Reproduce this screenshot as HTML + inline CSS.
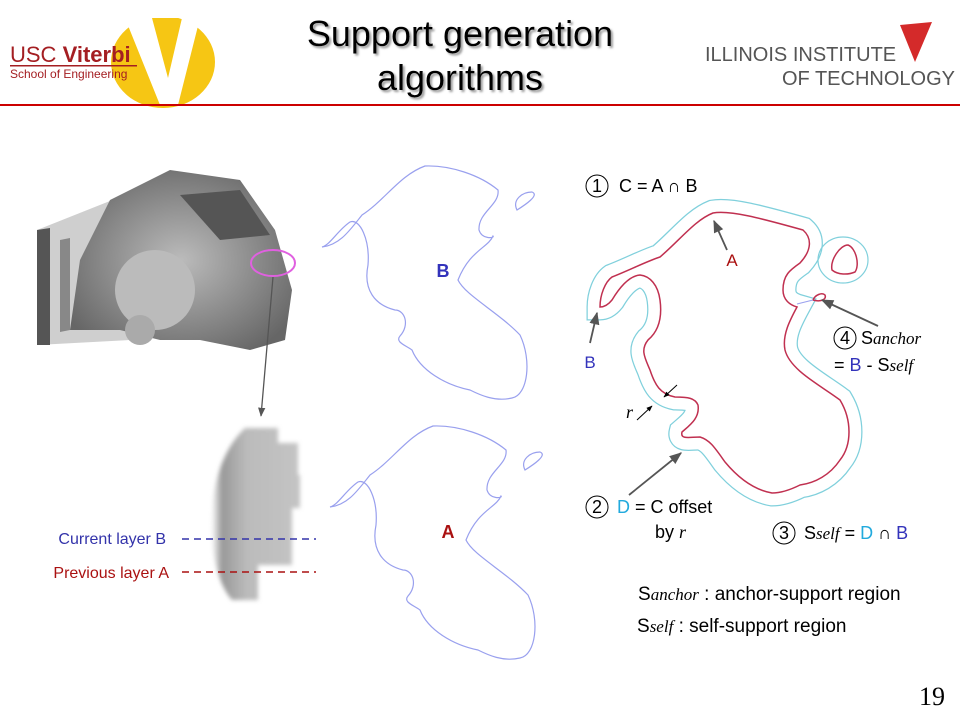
<!DOCTYPE html>
<html><head><meta charset="utf-8"><style>
html,body{margin:0;padding:0;background:#fff;}
svg{display:block;font-family:"Liberation Sans",Arial,sans-serif;}
</style></head><body>
<svg width="960" height="720" viewBox="0 0 960 720" xmlns="http://www.w3.org/2000/svg">
<defs>
<marker id="ah" viewBox="0 0 10 10" refX="9" refY="5" markerWidth="7" markerHeight="7" orient="auto"><path d="M0,1 L10,5 L0,9 z" fill="#555"/></marker>
<marker id="ak" viewBox="0 0 10 10" refX="9" refY="5" markerWidth="6" markerHeight="6" orient="auto"><path d="M0,1 L10,5 L0,9 z" fill="#000"/></marker>
<radialGradient id="hg" cx="0.5" cy="0.5" r="0.6"><stop offset="0" stop-color="#bbb"/><stop offset="1" stop-color="#666"/></radialGradient>
<linearGradient id="bl" x1="0" x2="1"><stop offset="0" stop-color="#fff"/><stop offset="0.12" stop-color="#999"/><stop offset="0.4" stop-color="#bbb"/><stop offset="1" stop-color="#c4c4c4"/></linearGradient>
<filter id="blur"><feGaussianBlur stdDeviation="2"/></filter>
<filter id="sh"><feDropShadow dx="2" dy="2" stdDeviation="1" flood-color="#999"/></filter>
</defs>
<!-- header -->
<ellipse cx="163" cy="62" rx="52" ry="46" fill="#f6c614"/>
<rect x="100" y="0" width="130" height="18" fill="#fff"/>
<path d="M125,18 L152,18 L168,78 L182,18 L200,18 L178,105 L160,105 Z" fill="#fff"/>
<text x="10" y="62" font-size="22" fill="#a41e22" font-family="Liberation Sans Narrow,Liberation Sans,sans-serif">USC <tspan font-weight="bold">Viterbi</tspan></text>
<rect x="10" y="65" width="127" height="1.5" fill="#a41e22"/>
<text x="10" y="78" font-size="12" fill="#a41e22">School of Engineering</text>
<text x="460" y="46" font-size="36" text-anchor="middle" fill="#000" filter="url(#sh)">Support generation</text>
<text x="460" y="90" font-size="36" text-anchor="middle" fill="#000" filter="url(#sh)">algorithms</text>
<text x="705" y="61" font-size="20" fill="#555" font-family="Liberation Sans Narrow,Liberation Sans,sans-serif">ILLINOIS INSTITUTE</text>
<text x="782" y="85" font-size="20" fill="#555" font-family="Liberation Sans Narrow,Liberation Sans,sans-serif">OF TECHNOLOGY</text>
<path d="M900,25 L932,22 L915,62 Z" fill="#d42a2a"/>
<rect x="0" y="104" width="960" height="2" fill="#c00"/>

<!-- 3D head image approx -->
<g>
<path d="M37,230 L125,195 L130,340 L37,345 Z" fill="#cfcfcf"/>
<path d="M37,230 L50,228 L50,345 L37,345 Z" fill="#555"/>
<path d="M60,240 L70,238 L70,330 L60,332 Z" fill="#888"/>
<path d="M110,200 L170,170 L240,180 L275,230 L292,290 L285,340 L250,350 L200,340 L160,340 L120,330 L70,330 L80,260 Z" fill="url(#hg)"/>
<path d="M180,195 L240,190 L270,235 L220,240 Z" fill="#555"/>
<circle cx="155" cy="290" r="40" fill="#bbb"/>
<circle cx="140" cy="330" r="15" fill="#aaa"/>
</g>
<ellipse cx="273" cy="263" rx="22" ry="13" fill="none" stroke="#e060e0" stroke-width="2"/>
<line x1="273" y1="277" x2="261" y2="416" stroke="#555" stroke-width="1.3" marker-end="url(#ah)"/>
<g filter="url(#blur)">
<path d="M245,428 L278,428 L278,443 L298,443 L298,475 L300,475 L300,508 L292,508 L292,565 L258,565 L258,600 L232,600 C205,570 200,470 245,428 Z" fill="url(#bl)"/>
</g>
<text x="166" y="544" font-size="16" fill="#3333aa" text-anchor="end">Current layer B</text>
<line x1="182" y1="539" x2="316" y2="539" stroke="#3333aa" stroke-width="1.5" stroke-dasharray="7,5"/>
<text x="169" y="578" font-size="16" fill="#aa1111" text-anchor="end">Previous layer A</text>
<line x1="182" y1="572" x2="316" y2="572" stroke="#aa1111" stroke-width="1.5" stroke-dasharray="7,5"/>

<!-- shape B -->
<g id="shp" fill="none" stroke="#99a0ee" stroke-width="1.2">
<path d="M322,247 C340,245 350,230 362,215 C385,200 400,175 425,166 C450,165 480,175 498,190 C500,205 478,212 479,230 C482,240 495,238 493,236 C488,248 470,250 458,280 C465,295 498,312 520,335 C532,360 528,395 512,398 C495,402 480,395 470,390 C445,385 420,370 412,350 C405,345 395,342 400,336 C410,325 405,310 395,310 C375,305 363,290 368,265 C370,240 360,218 350,222 C338,230 330,245 322,247 Z"/>
<path d="M517,210 C512,200 522,192 532,192 C540,195 525,205 517,210 Z"/>
</g>
<text x="443" y="277" font-size="18" font-weight="bold" fill="#3333bb" text-anchor="middle">B</text>
<use href="#shp" transform="translate(8,260)"/>
<text x="448" y="538" font-size="18" font-weight="bold" fill="#aa1111" text-anchor="middle">A</text>

<!-- right diagram -->
<g fill="none">
<path id="main" d="M600,307 C600,295 605,282 612,277 C630,270 645,262 660,257 C680,240 695,220 713,213 C730,210 760,218 803,230 C812,238 812,250 800,263 C790,270 783,275 783,290 C783,300 790,305 797,307 C790,320 782,335 785,350 C790,370 820,385 840,400 C852,420 852,445 840,460 C830,475 815,483 800,485 C790,490 780,493 772,493 C755,490 740,480 725,462 C715,448 710,440 700,437 C690,437 680,440 682,432 C690,425 700,418 698,405 C695,398 688,397 675,397 C660,394 655,385 650,370 C645,358 640,350 648,340 C660,330 662,315 660,300 C658,285 650,276 640,275 C628,276 618,290 612,300 C608,305 604,307 600,307 Z"/>
</g>
<use href="#main" stroke="#80d0dc" stroke-width="27" fill="none"/>
<use href="#main" stroke="#fff" stroke-width="24.5" fill="#fff"/>
<ellipse cx="843" cy="260" rx="25" ry="23" fill="none" stroke="#80d0dc" stroke-width="1.2"/>
<use href="#main" stroke="#c03050" stroke-width="1.5" fill="none"/>
<path d="M832,270 C830,260 840,245 848,245 C856,248 860,265 855,272 C848,275 838,275 832,270 Z" fill="none" stroke="#c03050" stroke-width="1.5"/>
<path d="M813,300 C815,295 822,292 825,295 C827,300 820,302 813,300 Z" fill="none" stroke="#c03050" stroke-width="1.5"/>
<line x1="797" y1="304" x2="813" y2="300" stroke="#99a0ee" stroke-width="1"/>

<line x1="727" y1="250" x2="714" y2="221" stroke="#555" stroke-width="1.8" marker-end="url(#ah)"/>
<text x="732" y="266" font-size="17" fill="#aa1111" text-anchor="middle">A</text>
<line x1="590" y1="343" x2="597" y2="313" stroke="#555" stroke-width="1.8" marker-end="url(#ah)"/>
<text x="590" y="368" font-size="17" fill="#3333bb" text-anchor="middle">B</text>
<line x1="878" y1="326" x2="822" y2="300" stroke="#555" stroke-width="1.8" marker-end="url(#ah)"/>
<line x1="629" y1="495" x2="681" y2="453" stroke="#555" stroke-width="1.8" marker-end="url(#ah)"/>
<line x1="677" y1="385" x2="664" y2="397" stroke="#000" stroke-width="1" marker-end="url(#ak)"/>
<line x1="637" y1="420" x2="652" y2="406" stroke="#000" stroke-width="1" marker-end="url(#ak)"/>
<text x="626" y="418" font-size="18" font-style="italic" font-family="Liberation Serif,serif">r</text>

<g font-size="18" fill="#000">
<circle cx="597" cy="186" r="11" fill="none" stroke="#000" stroke-width="1"/>
<text x="597" y="192" text-anchor="middle">1</text>
<text x="619" y="192">C = A ∩ B</text>
<circle cx="845" cy="338" r="11" fill="none" stroke="#000" stroke-width="1"/>
<text x="845" y="344" text-anchor="middle">4</text>
<text x="861" y="344">S<tspan font-family="Liberation Serif,serif" font-style="italic" font-size="17">anchor</tspan></text>
<text x="834" y="371">= <tspan fill="#3333bb">B</tspan> - S<tspan font-family="Liberation Serif,serif" font-style="italic" font-size="17">self</tspan></text>
<circle cx="597" cy="507" r="11" fill="none" stroke="#000" stroke-width="1"/>
<text x="597" y="513" text-anchor="middle">2</text>
<text x="617" y="513"><tspan fill="#22aadd">D</tspan> = C offset</text>
<text x="655" y="538">by <tspan font-family="Liberation Serif,serif" font-style="italic">r</tspan></text>
<circle cx="784" cy="533" r="11" fill="none" stroke="#000" stroke-width="1"/>
<text x="784" y="539" text-anchor="middle">3</text>
<text x="804" y="539">S<tspan font-family="Liberation Serif,serif" font-style="italic" font-size="17">self</tspan> = <tspan fill="#22aadd">D</tspan> ∩ <tspan fill="#3333bb">B</tspan></text>
<text x="638" y="600" font-size="19">S<tspan font-family="Liberation Serif,serif" font-style="italic" font-size="17">anchor</tspan> : anchor-support region</text>
<text x="637" y="632" font-size="19">S<tspan font-family="Liberation Serif,serif" font-style="italic" font-size="17">self</tspan> : self-support region</text>
</g>
<text x="945" y="705" font-size="26" text-anchor="end" font-family="Liberation Serif,serif">19</text>
</svg>
</body></html>
